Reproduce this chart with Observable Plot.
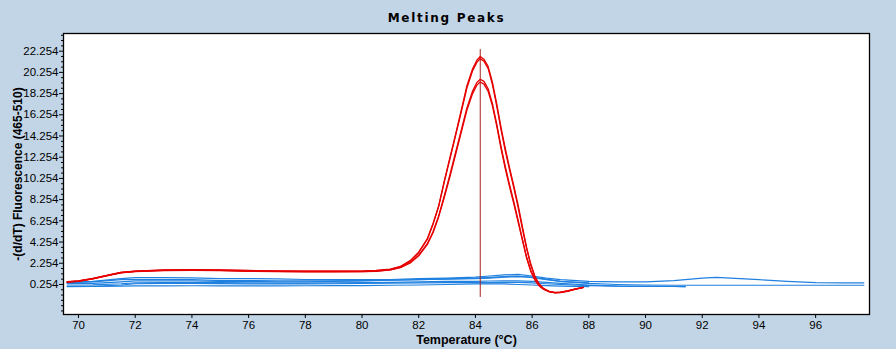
<!DOCTYPE html>
<html><head><meta charset="utf-8">
<script src="https://cdn.jsdelivr.net/npm/d3@7"></script>
<script src="https://cdn.jsdelivr.net/npm/@observablehq/plot@0.6"></script>
<style>
html,body{margin:0;padding:0;background:#c2d5e6;}
#chart{width:896px;height:349px;overflow:hidden;}
</style></head><body><div id="chart"></div>
<script>
// ---- text ----
const titleText = ["Melting Peaks"];
const xLabelText = ["Temperature (°C)"];
const yLabelText = ["-(d/dT) Fluorescence (465-510)"];

// ---- axes ----
const xTicks = [70, 72, 74, 76, 78, 80, 82, 84, 86, 88, 90, 92, 94, 96];
const yTicks = [0.254, 2.254, 4.254, 6.254, 8.254, 10.254, 12.254, 14.254, 16.254, 18.254, 20.254, 22.254];
const xDomain = [69.47, 97.9];
const yDomain = [-2.58, 23.92];

// ---- cursor line ----
const cursorT = [84.17];
const cursorRange = [-0.97, 22.4];

// ---- red (melting peak) samples ----
const redT = [69.6, 70, 70.5, 71, 71.5, 72, 73, 74, 75, 76, 77, 78, 79, 80, 80.5, 81, 81.35, 81.7, 82, 82.3, 82.5, 82.7, 82.9, 83.1, 83.3, 83.5, 83.7, 83.9, 84.05, 84.17, 84.3, 84.45, 84.6, 84.75, 84.9, 85.05, 85.2, 85.35, 85.5, 85.65, 85.8, 85.95, 86.1, 86.25, 86.4, 86.6, 86.8, 87.0, 87.25, 87.5, 87.8];
const red1 = [0.50, 0.58, 0.80, 1.10, 1.38, 1.50, 1.60, 1.62, 1.60, 1.55, 1.52, 1.50, 1.50, 1.50, 1.55, 1.68, 1.92, 2.45, 3.25, 4.5, 5.9, 7.6, 10.0, 12.2, 14.4, 16.7, 19.0, 20.6, 21.4, 21.75, 21.5, 20.8, 19.3, 17.3, 15.1, 13.1, 11.3, 9.6, 7.8, 5.8, 3.8, 2.2, 1.0, 0.3, -0.12, -0.40, -0.52, -0.50, -0.38, -0.20, -0.03];
const red2 = [0.52, 0.60, 0.82, 1.12, 1.40, 1.52, 1.62, 1.64, 1.62, 1.57, 1.54, 1.52, 1.51, 1.52, 1.57, 1.70, 1.95, 2.50, 3.30, 4.55, 5.95, 7.6, 9.9, 12.1, 14.3, 16.5, 18.8, 20.4, 21.2, 21.55, 21.3, 20.6, 19.1, 17.1, 14.9, 12.9, 11.1, 9.4, 7.6, 5.6, 3.7, 2.1, 0.95, 0.25, -0.15, -0.42, -0.53, -0.51, -0.39, -0.21, -0.04];
const red3 = [0.48, 0.56, 0.78, 1.08, 1.36, 1.48, 1.58, 1.60, 1.58, 1.52, 1.48, 1.46, 1.46, 1.47, 1.52, 1.64, 1.86, 2.32, 3.0, 4.1, 5.2, 6.7, 8.6, 10.6, 12.7, 14.8, 16.9, 18.5, 19.3, 19.6, 19.4, 18.7, 17.3, 15.4, 13.3, 11.4, 9.7, 8.1, 6.4, 4.6, 2.9, 1.6, 0.7, 0.15, -0.18, -0.42, -0.50, -0.47, -0.35, -0.18, -0.02];
const red4 = [0.47, 0.55, 0.77, 1.06, 1.34, 1.46, 1.56, 1.58, 1.56, 1.50, 1.47, 1.45, 1.45, 1.46, 1.50, 1.62, 1.84, 2.28, 2.95, 4.0, 5.1, 6.6, 8.45, 10.4, 12.5, 14.6, 16.7, 18.25, 19.05, 19.35, 19.15, 18.45, 17.1, 15.2, 13.1, 11.2, 9.5, 7.9, 6.2, 4.5, 2.8, 1.5, 0.65, 0.12, -0.2, -0.43, -0.51, -0.48, -0.36, -0.19, -0.03];

// ---- blue (background) samples ----
const blueT = [69.6, 70.5, 71.5, 72, 73, 74, 75, 76, 77, 78, 79, 80, 81, 82, 83, 84, 84.5, 85, 85.5, 86, 86.5, 87, 88, 89, 90, 91, 91.4, 92, 92.5, 93, 94, 95, 96, 97, 97.7];
const blue1 = [0.45, 0.55, 0.80, 0.90, 0.90, 0.88, 0.80, 0.80, 0.78, 0.72, 0.70, 0.70, 0.72, 0.80, 0.85, 0.95, 1.05, 1.15, 1.20, 1.05, 0.85, 0.70, 0.55, 0.50, 0.50, 0.62, 0.70, 0.85, 0.92, 0.85, 0.70, 0.55, 0.42, 0.40, 0.40];
const blue2 = [0.35, 0.35, 0.50, 0.60, 0.60, 0.60, 0.55, 0.55, 0.50, 0.50, 0.55, 0.60, 0.65, 0.70, 0.75, 0.80, 0.85, 0.95, 1.00, 0.95, 0.75, 0.55, 0.35, 0.25, 0.20, 0.18, 0.18, 0.18, 0.18, 0.18, 0.18, 0.18, 0.18, 0.18, 0.18];
const blue3 = [0.20, 0.22, 0.32, 0.40, 0.42, 0.42, 0.42, 0.40, 0.38, 0.38, 0.40, 0.42, 0.45, 0.50, 0.55, 0.55, 0.58, 0.60, 0.60, 0.55, 0.45, 0.35, 0.20, 0.10, 0.08, 0.06, 0.05, null, null, null, null, null, null, null, null];
const blue4 = [0.08, 0.08, 0.20, 0.32, 0.35, 0.35, 0.33, 0.30, 0.30, 0.30, 0.32, 0.35, 0.38, 0.40, 0.42, 0.42, 0.42, 0.45, 0.45, 0.40, 0.32, 0.25, 0.15, 0.10, 0.08, 0.06, 0.05, null, null, null, null, null, null, null, null];
const blue5 = [0.05, 0.06, 0.10, 0.12, 0.12, 0.13, 0.12, 0.12, 0.12, 0.13, 0.14, 0.15, 0.18, 0.20, 0.25, 0.30, 0.32, 0.30, 0.25, 0.20, 0.15, 0.10, 0.05, null, null, null, null, null, null, null, null, null, null, null, null];
const blue6 = [0.42, 0.50, 0.70, 0.72, 0.72, 0.72, 0.62, 0.62, 0.60, 0.60, 0.60, 0.62, 0.66, 0.70, 0.78, 0.85, 0.92, 1.00, 1.05, 0.90, 0.70, 0.55, 0.40, null, null, null, null, null, null, null, null, null, null, null, null];

const redSeries = {red1, red2, red3, red4};
const blueSeries = {blue1, blue2, blue3, blue4, blue5, blue6};

function rows(T, seriesObj) {
  const out = [];
  for (const [name, vals] of Object.entries(seriesObj)) {
    vals.forEach((v, i) => { if (v !== null) out.push({series: name, t: T[i], v}); });
  }
  return out;
}
const redRows = rows(redT, redSeries);
const blueRows = rows(blueT, blueSeries);

const minorY = d3.range(-2.246, 23.9, 0.5).filter(v => !yTicks.some(t => Math.abs(t - v) < 1e-6));

const chart = Plot.plot({
  width: 896,
  height: 349,
  marginLeft: 63,
  marginRight: 27,
  marginTop: 33,
  marginBottom: 35,
  style: {background: "#c2d5e6", fontFamily: "'Liberation Sans', Arial, sans-serif", fontSize: "11.5px", color: "#000"},
  x: {domain: xDomain},
  y: {domain: yDomain},
  marks: [
    Plot.frame({fill: "white"}),
    Plot.axisX({ticks: xTicks, tickSize: 4, tickPadding: 2, label: null, tickFormat: d => String(d)}),
    Plot.axisY({ticks: yTicks, tickSize: 4, tickPadding: 1, label: null, tickFormat: d => d.toFixed(3)}),
    Plot.axisY({ticks: minorY, tickSize: 2, label: null, tickFormat: () => ""}),
    Plot.line(blueRows, {x: "t", y: "v", z: "series", stroke: "#1f80e0", strokeWidth: 1.2, clip: true}),
    Plot.ruleX(cursorT, {x: d => d, y1: cursorRange[0], y2: cursorRange[1], stroke: "#a52020", strokeWidth: 1}),
    Plot.line(redRows, {x: "t", y: "v", z: "series", stroke: "#e60000", strokeWidth: 1.3, clip: true}),
    Plot.frame({stroke: "#000", strokeWidth: 1.3}),
    Plot.text(titleText, {text: d => d, frameAnchor: "top", lineAnchor: "middle", dy: -15, dx: -20, fontWeight: "bold", fontSize: 12, fontFamily: "'DejaVu Sans', Verdana, sans-serif"}),
    Plot.text(xLabelText, {text: d => d, frameAnchor: "bottom", lineAnchor: "middle", dy: 25, fontWeight: "bold", fontSize: 12.5}),
    Plot.text(yLabelText, {text: d => d, frameAnchor: "left", textAnchor: "middle", lineAnchor: "middle", dx: -45, rotate: -90, fontWeight: "bold", fontSize: 12})
  ]
});
d3.select(chart).selectAll("text").filter(function() { return this.textContent === titleText[0]; })
  .style("letter-spacing", "1.7px");
document.getElementById("chart").appendChild(chart);
</script></body></html>
